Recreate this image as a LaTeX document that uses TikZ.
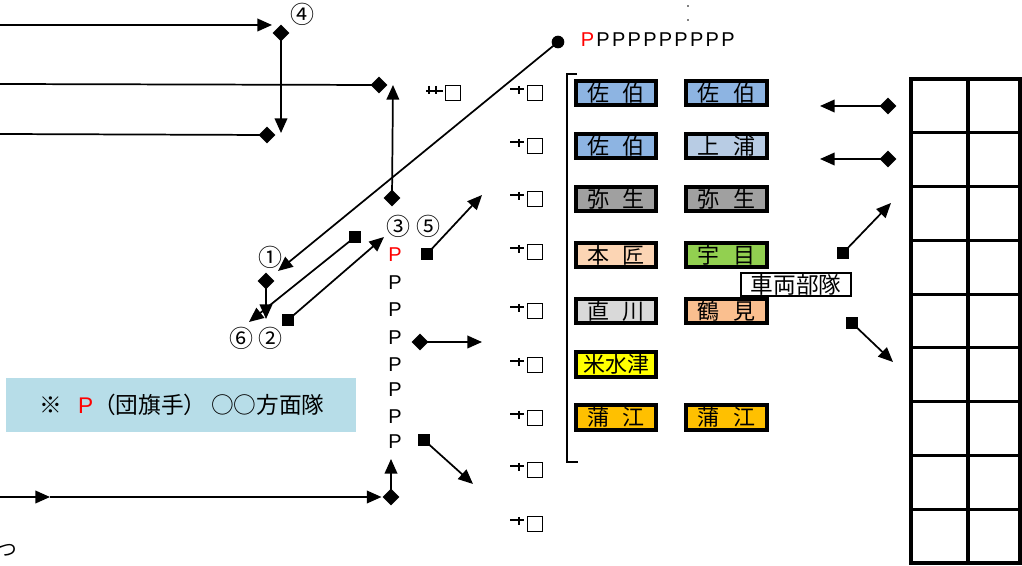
\documentclass[tikz,border=0pt]{standalone}
\usepackage{fontspec}
\setmainfont{Noto Sans CJK JP}
\newfontfamily\lat{Liberation Sans}
\usetikzlibrary{arrows.meta,shapes.geometric}
\definecolor{cblue}{HTML}{8DB4E2}
\definecolor{clblue}{HTML}{B8CCE4}
\definecolor{cgray}{HTML}{A0A0A0}
\definecolor{cpeach}{HTML}{FCD5B4}
\definecolor{cgreen}{HTML}{92D050}
\definecolor{clgray}{HTML}{D9D9D9}
\definecolor{corange}{HTML}{FABF8F}
\definecolor{cyellow}{HTML}{FFFF00}
\definecolor{camber}{HTML}{FFC000}
\definecolor{legbg}{HTML}{B7DDE8}
\newcommand{\pk}{\kern1.7pt}
\begin{document}
\begin{tikzpicture}[x=0.75pt,y=-0.75pt,line width=1.3pt,
  dia/.style={diamond,fill=black,inner sep=0pt,minimum size=13pt},
  sqb/.style={rectangle,fill=black,inner sep=0pt,minimum size=8.6pt},
  dotb/.style={circle,fill=black,inner sep=0pt,minimum size=9.5pt},
  tiny/.style={circle,fill=black,inner sep=0pt,minimum size=1.4pt},
  arr/.style={-{Triangle[length=11pt,width=9.5pt]}},
  sqw/.style={rectangle,draw,line width=1.1pt,inner sep=0pt,minimum size=11.5pt},
  cbox/.style={rectangle,draw,line width=3pt,minimum width=60.5pt,minimum height=18.5pt,inner sep=0pt,font=\fontsize{16.5pt}{17pt}\selectfont},
  pl/.style={font=\lat\fontsize{15pt}{16pt}\selectfont,inner sep=0pt},
  cn/.style={font=\fontsize{18pt}{19pt}\selectfont,inner sep=0pt}
]
\useasboundingbox (0,0) rectangle (1022,566);

% top-left lines
\coordinate (L1) at (0,25); \coordinate (T1) at (272,25);
\draw[arr] (L1) -- (T1);
\node[dia] (D4) at (281,33) {};
\coordinate (T4) at (281,133);
\draw[arr] (D4.center) -- (T4);
\coordinate (L2) at (0,84); \node[dia] (D2) at (379,85) {};
\draw (L2) -- (D2.center);
\coordinate (L3) at (0,134); \node[dia] (D3) at (267,135) {};
\draw (L3) -- (D3.center);
\node[cn] (n4) at (302,14) {④};

% vertical up arrow
\node[dia] (D5) at (392,198) {}; \coordinate (T5) at (393,85);
\draw[arr] (D5.center) -- (T5);

% long diagonal
\node[dotb] (C1) at (558,42) {}; \coordinate (T6) at (278,271);
\draw[arr] (C1.center) -- (T6);

% middle arrows
\node[dia] (D6) at (266,281) {}; \coordinate (T7) at (266,319);
\draw[arr] (D6.center) -- (T7);
\node[sqb] (S1) at (355,237) {}; \coordinate (T8) at (249,322);
\draw[arr] (S1.center) -- (T8);
\node[sqb] (S2) at (288,320) {}; \coordinate (T9) at (384,237);
\draw[arr] (S2.center) -- (T9);
\node[sqb] (S3) at (427,254) {}; \coordinate (T10) at (482,195);
\draw[arr] (S3.center) -- (T10);
\node[dia] (D7) at (420,342) {}; \coordinate (T11) at (482,342);
\draw[arr] (D7.center) -- (T11);
\node[sqb] (S4) at (424,440) {}; \coordinate (T12) at (473,484);
\draw[arr] (S4.center) -- (T12);

% bottom line
\coordinate (L4) at (0,497); \coordinate (M4) at (50,497);
\draw[arr] (L4) -- (M4);
\node[dia] (D8) at (391,497) {};
\draw[arr] (M4) -- (D8.west);
\coordinate (T13) at (391,459);
\draw[arr] (D8.center) -- (T13);

% circled numbers
\node[cn] (n1) at (270,257) {①};
\node[cn] (n6) at (241,338) {⑥};
\node[cn] (n2) at (270,338) {②};
\node[cn] (n3) at (398,226) {③};
\node[cn] (n5) at (428,226) {⑤};

% P column
\node[pl,text=red] (p1) at (395,255) {P};
\foreach \yy [count=\i from 2] in {283,310,338,365,390,417,442}
  \node[pl] (p\i) at (395,\yy) {P};

% top P string and dots
\node[pl,anchor=west] (ptop) at (580,40) {\textcolor{red}{P}\pk P\pk P\pk P\pk P\pk P\pk P\pk P\pk P\pk P};
\node[tiny] (dt1) at (688,6) {};
\node[tiny] (dt2) at (688,20) {};

% train symbols
\node[sqw] (q0) at (453,93) {};
\draw[line width=1.1pt] (426,91) -- (443,91) (429,86) -- (429,94) (436,86) -- (436,94);
\foreach \yy [count=\i] in {93,146,199,252,311,365,418,470,524}{
  \node[sqw] (q\i) at (535,\yy) {};
  \draw[line width=1.1pt] (510,\yy-4) -- (524,\yy-4) (519,\yy-7) -- (519,\yy+1);
}

% bracket
\draw[line width=1.6pt] (577,74) -- (567,74) -- (567,462) -- (578,462);

% colored boxes
\node[cbox,fill=cblue] (b11) at (616,93) {佐\hspace{0.6em}伯};
\node[cbox,fill=cblue] (b12) at (726.5,93) {佐\hspace{0.6em}伯};
\node[cbox,fill=cblue] (b21) at (616,146) {佐\hspace{0.6em}伯};
\node[cbox,fill=clblue] (b22) at (726.5,146) {上\hspace{0.6em}浦};
\node[cbox,fill=cgray] (b31) at (616,199) {弥\hspace{0.6em}生};
\node[cbox,fill=cgray] (b32) at (726.5,199) {弥\hspace{0.6em}生};
\node[cbox,fill=cpeach] (b41) at (616,255) {本\hspace{0.6em}匠};
\node[cbox,fill=cgreen] (b42) at (726.5,255) {宇\hspace{0.6em}目};
\node[cbox,fill=clgray] (b51) at (616,311) {直\hspace{0.6em}川};
\node[cbox,fill=corange] (b52) at (726.5,311) {鶴\hspace{0.6em}見};
\node[cbox,fill=cyellow] (b61) at (616,364.5) {米水津};
\node[cbox,fill=camber] (b71) at (616,417.5) {蒲\hspace{0.6em}江};
\node[cbox,fill=camber] (b72) at (726.5,417.5) {蒲\hspace{0.6em}江};
\node[rectangle,draw,fill=white,line width=1.6pt,minimum width=82pt,minimum height=17.5pt,inner sep=0pt,font=\fontsize{17pt}{18pt}\selectfont] (veh) at (796,284.5) {車両部隊};

% right arrows
\node[dia] (D9) at (888,106) {}; \coordinate (T14) at (820,106);
\draw[arr] (D9.center) -- (T14);
\node[dia] (D10) at (888,159) {}; \coordinate (T15) at (820,159);
\draw[arr] (D10.center) -- (T15);
\node[sqb] (S5) at (843,253) {}; \coordinate (T16) at (891,203);
\draw[arr] (S5.center) -- (T16);
\node[sqb] (S6) at (852,323) {}; \coordinate (T17) at (893,362);
\draw[arr] (S6.center) -- (T17);

% grid
\draw[line width=2.3pt] (911,79) rectangle (1020,563);
\draw[line width=2.3pt] (968,79) -- (968,563);
\foreach \k in {1,...,8}
  \draw[line width=2.3pt] (911,79+53.78*\k) -- (1020,79+53.78*\k);

% legend
\node[rectangle,fill=legbg,minimum width=262.5pt,minimum height=40.5pt,inner sep=0pt] (leg) at (181,405) {};
\node[font=\fontsize{17pt}{18pt}\selectfont,inner sep=0pt] (legt) at (182,405) {※\hspace{0.7em}{\lat\textcolor{red}{P}}（団旗手）\hspace{0.2em}○○方面隊};

% cut text
\node[font=\fontsize{14pt}{15pt}\selectfont,inner sep=0pt] (tsu) at (8,550) {つ};
\end{tikzpicture}
\end{document}
